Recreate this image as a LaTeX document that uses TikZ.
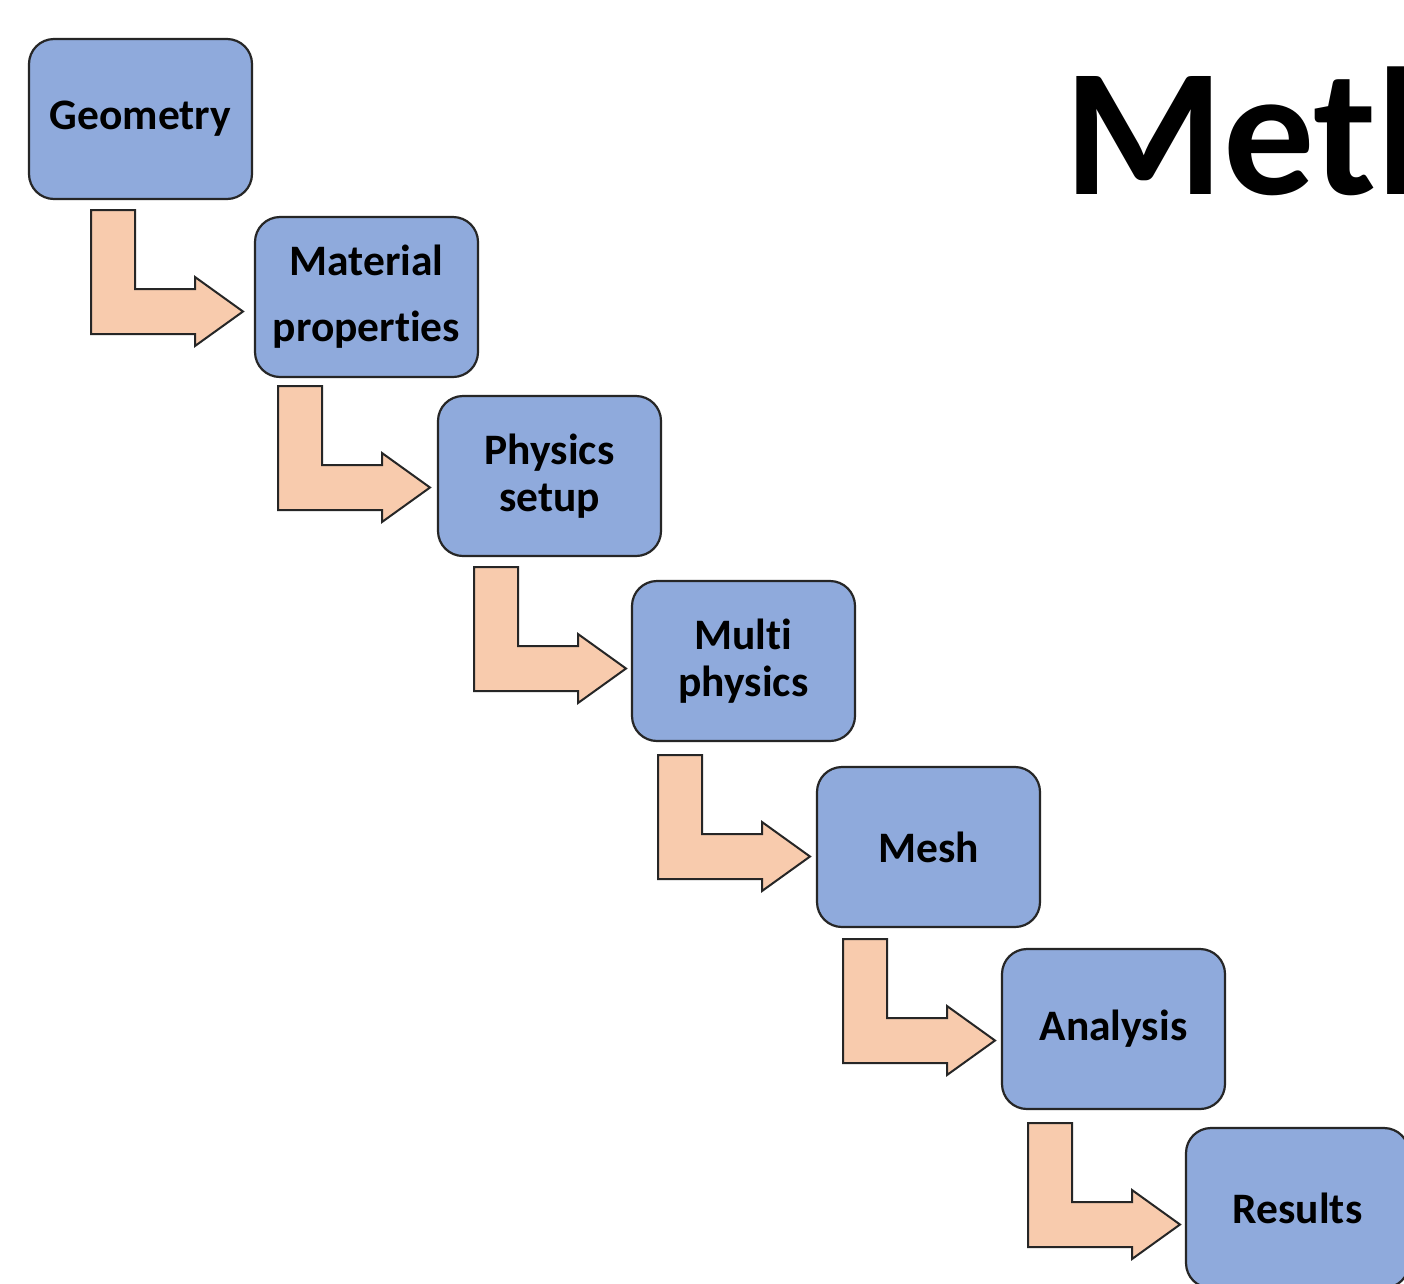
\documentclass[tikz,border=0pt]{standalone}
\usepackage{fontspec}
\setmainfont{Carlito}[Ligatures={NoCommon,NoContextual}]
\definecolor{boxblue}{HTML}{8FAADC}
\definecolor{arrowpeach}{HTML}{F8CBAD}
\definecolor{edgedark}{HTML}{262626}
\newcommand{\bentarrow}[3]{%
  \draw[bentstyle] (#1,#2) -- ++(44,0) -- ++(0,79) -- ++(60,0) -- ++(0,-12)
    -- ++(48,34.5) -- ++(-48,34.5) -- ++(0,-12) -- ++(-104,0) -- cycle;
  \coordinate (#3) at (#1+152,#2+101.5);}
\begin{document}
\begin{tikzpicture}[x=1pt,y=-1pt,
  stagebox/.style={draw=edgedark, line width=2.2pt, fill=boxblue, rounded corners=25pt,
    minimum width=223pt, minimum height=160pt, inner sep=0pt, align=center,
    font=\bfseries\fontsize{43.5}{47}\selectfont},
  bentstyle/.style={draw=edgedark, line width=2pt, fill=arrowpeach, line join=miter}]
\useasboundingbox (0,0) rectangle (1404,1283);
\clip (0,0) rectangle (1404,1283);
\fill[white] (0,0) rectangle (1404,1283);
% title
\node[anchor=base west, inner sep=0pt, font=\bfseries\fontsize{182}{190}\selectfont] (title) at (1064,194) {Methods};
% arrows
\bentarrow{91}{210}{t1}
\bentarrow{278}{386}{t2}
\bentarrow{474}{567}{t3}
\bentarrow{658}{755}{t4}
\bentarrow{843}{939}{t5}
\bentarrow{1028}{1123}{t6}
% boxes
\node[stagebox] (b1) at (140.5,119) {Geometry};
\node[stagebox] (b2) at (366.5,297) {Material\\[19pt]properties};
\node[stagebox] (b3) at (549.5,476) {Physics\\setup};
\node[stagebox] (b4) at (743.5,661) {Multi\\physics};
\node[stagebox] (b5) at (928.5,847) {Mesh};
\node[stagebox] (b6) at (1113.5,1029) {Analysis};
\node[stagebox] (b7) at (1297.5,1208) {Results};
\end{tikzpicture}
\end{document}
